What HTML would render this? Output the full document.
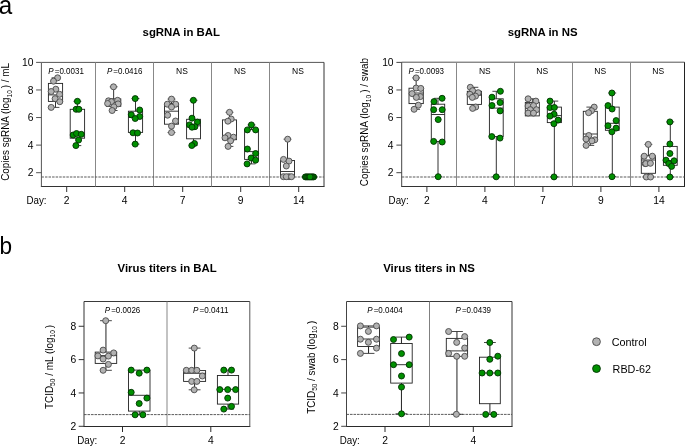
<!DOCTYPE html>
<html><head><meta charset="utf-8"><style>html,body{margin:0;padding:0;background:#fff;width:685px;height:446px;overflow:hidden}svg{display:block} text{-webkit-font-smoothing:antialiased}</style></head>
<body><svg style="will-change:transform" width="685" height="446" viewBox="0 0 685 446" font-family='"Liberation Sans", sans-serif' fill="#000">
<rect width="685" height="446" fill="#fff"/>
<text transform="translate(-1.2,14.0) scale(0.95,1)" font-size="25.5">a</text>
<text transform="translate(-0.4,254.2) scale(0.92,1)" font-size="24.6">b</text>
<line x1="41.4" y1="62.4" x2="324" y2="62.4" stroke="#555" stroke-width="1" />
<line x1="41.4" y1="186.5" x2="324" y2="186.5" stroke="#333" stroke-width="1" stroke-linecap="square"/>
<line x1="41.4" y1="62.4" x2="41.4" y2="186.5" stroke="#555" stroke-width="1" />
<line x1="324" y1="62.4" x2="324" y2="186.5" stroke="#333" stroke-width="1" />
<line x1="95.5" y1="62.4" x2="95.5" y2="186.5" stroke="#888" stroke-width="1" />
<line x1="153.5" y1="62.4" x2="153.5" y2="186.5" stroke="#888" stroke-width="1" />
<line x1="211.5" y1="62.4" x2="211.5" y2="186.5" stroke="#888" stroke-width="1" />
<line x1="269.5" y1="62.4" x2="269.5" y2="186.5" stroke="#888" stroke-width="1" />
<line x1="36.1" y1="62.38" x2="41.4" y2="62.38" stroke="#555" stroke-width="1" />
<text x="33.4" y="65.98" font-size="10.3" text-anchor="end" font-weight="normal" >10</text>
<line x1="36.1" y1="89.96" x2="41.4" y2="89.96" stroke="#555" stroke-width="1" />
<text x="33.4" y="93.56" font-size="10.3" text-anchor="end" font-weight="normal" >8</text>
<line x1="36.1" y1="117.54" x2="41.4" y2="117.54" stroke="#555" stroke-width="1" />
<text x="33.4" y="121.14" font-size="10.3" text-anchor="end" font-weight="normal" >6</text>
<line x1="36.1" y1="145.12" x2="41.4" y2="145.12" stroke="#555" stroke-width="1" />
<text x="33.4" y="148.72" font-size="10.3" text-anchor="end" font-weight="normal" >4</text>
<line x1="36.1" y1="172.7" x2="41.4" y2="172.7" stroke="#555" stroke-width="1" />
<text x="33.4" y="176.3" font-size="10.3" text-anchor="end" font-weight="normal" >2</text>
<line x1="66.7" y1="186.5" x2="66.7" y2="192" stroke="#333" stroke-width="1" />
<text x="66.7" y="204.1" font-size="10.3" text-anchor="middle" font-weight="normal" >2</text>
<line x1="124.7" y1="186.5" x2="124.7" y2="192" stroke="#333" stroke-width="1" />
<text x="124.7" y="204.1" font-size="10.3" text-anchor="middle" font-weight="normal" >4</text>
<line x1="182.7" y1="186.5" x2="182.7" y2="192" stroke="#333" stroke-width="1" />
<text x="182.7" y="204.1" font-size="10.3" text-anchor="middle" font-weight="normal" >7</text>
<line x1="240.7" y1="186.5" x2="240.7" y2="192" stroke="#333" stroke-width="1" />
<text x="240.7" y="204.1" font-size="10.3" text-anchor="middle" font-weight="normal" >9</text>
<line x1="298.7" y1="186.5" x2="298.7" y2="192" stroke="#333" stroke-width="1" />
<text x="298.7" y="204.1" font-size="10.3" text-anchor="middle" font-weight="normal" >14</text>
<text transform="translate(26.4,204.1) scale(0.95,1)" font-size="10.3">Day:</text>
<line x1="41.4" y1="177" x2="324" y2="177" stroke="#5a5a5a" stroke-width="1.1" stroke-dasharray="2.5,1.06"/>
<text x="181.3" y="35.8" font-size="11.4" text-anchor="middle" font-weight="bold" >sgRNA in BAL</text>
<line x1="401.7" y1="62.2" x2="684.5" y2="62.2" stroke="#555" stroke-width="1" />
<line x1="401.7" y1="186.5" x2="684.5" y2="186.5" stroke="#333" stroke-width="1" stroke-linecap="square"/>
<line x1="401.7" y1="62.2" x2="401.7" y2="186.5" stroke="#444" stroke-width="1" />
<line x1="684.5" y1="62.2" x2="684.5" y2="186.5" stroke="#222" stroke-width="1" />
<line x1="456.5" y1="62.2" x2="456.5" y2="186.5" stroke="#888" stroke-width="1" />
<line x1="514.5" y1="62.2" x2="514.5" y2="186.5" stroke="#888" stroke-width="1" />
<line x1="572.5" y1="62.2" x2="572.5" y2="186.5" stroke="#888" stroke-width="1" />
<line x1="630.5" y1="62.2" x2="630.5" y2="186.5" stroke="#888" stroke-width="1" />
<line x1="396.4" y1="62.38" x2="401.7" y2="62.38" stroke="#444" stroke-width="1" />
<text x="393.6" y="65.98" font-size="10.3" text-anchor="end" font-weight="normal" >10</text>
<line x1="396.4" y1="89.96" x2="401.7" y2="89.96" stroke="#444" stroke-width="1" />
<text x="393.6" y="93.56" font-size="10.3" text-anchor="end" font-weight="normal" >8</text>
<line x1="396.4" y1="117.54" x2="401.7" y2="117.54" stroke="#444" stroke-width="1" />
<text x="393.6" y="121.14" font-size="10.3" text-anchor="end" font-weight="normal" >6</text>
<line x1="396.4" y1="145.12" x2="401.7" y2="145.12" stroke="#444" stroke-width="1" />
<text x="393.6" y="148.72" font-size="10.3" text-anchor="end" font-weight="normal" >4</text>
<line x1="396.4" y1="172.7" x2="401.7" y2="172.7" stroke="#444" stroke-width="1" />
<text x="393.6" y="176.3" font-size="10.3" text-anchor="end" font-weight="normal" >2</text>
<line x1="426.9" y1="186.5" x2="426.9" y2="192" stroke="#333" stroke-width="1" />
<text x="426.9" y="204.1" font-size="10.3" text-anchor="middle" font-weight="normal" >2</text>
<line x1="484.9" y1="186.5" x2="484.9" y2="192" stroke="#333" stroke-width="1" />
<text x="484.9" y="204.1" font-size="10.3" text-anchor="middle" font-weight="normal" >4</text>
<line x1="542.9" y1="186.5" x2="542.9" y2="192" stroke="#333" stroke-width="1" />
<text x="542.9" y="204.1" font-size="10.3" text-anchor="middle" font-weight="normal" >7</text>
<line x1="600.9" y1="186.5" x2="600.9" y2="192" stroke="#333" stroke-width="1" />
<text x="600.9" y="204.1" font-size="10.3" text-anchor="middle" font-weight="normal" >9</text>
<line x1="658.9" y1="186.5" x2="658.9" y2="192" stroke="#333" stroke-width="1" />
<text x="658.9" y="204.1" font-size="10.3" text-anchor="middle" font-weight="normal" >14</text>
<text transform="translate(388.6,204.1) scale(0.95,1)" font-size="10.3">Day:</text>
<line x1="401.7" y1="177" x2="684.5" y2="177" stroke="#5a5a5a" stroke-width="1.1" stroke-dasharray="2.6,1.1"/>
<text x="542.6" y="35.8" font-size="11.4" text-anchor="middle" font-weight="bold" >sgRNA in NS</text>
<line x1="84" y1="301.5" x2="249.8" y2="301.5" stroke="#3a3a3a" stroke-width="1" />
<line x1="84" y1="426.5" x2="249.8" y2="426.5" stroke="#2a2a2a" stroke-width="1" stroke-linecap="square"/>
<line x1="84" y1="301.5" x2="84" y2="426.5" stroke="#333" stroke-width="1" />
<line x1="249.8" y1="301.5" x2="249.8" y2="426.5" stroke="#555" stroke-width="1" />
<line x1="167" y1="301.5" x2="167" y2="426.5" stroke="#878787" stroke-width="1" />
<line x1="78.7" y1="326.28" x2="84" y2="326.28" stroke="#333" stroke-width="1" />
<text x="76.2" y="329.88" font-size="10.3" text-anchor="end" font-weight="normal" >8</text>
<line x1="78.7" y1="359.62" x2="84" y2="359.62" stroke="#333" stroke-width="1" />
<text x="76.2" y="363.22" font-size="10.3" text-anchor="end" font-weight="normal" >6</text>
<line x1="78.7" y1="392.96" x2="84" y2="392.96" stroke="#333" stroke-width="1" />
<text x="76.2" y="396.56" font-size="10.3" text-anchor="end" font-weight="normal" >4</text>
<line x1="78.7" y1="426.3" x2="84" y2="426.3" stroke="#333" stroke-width="1" />
<text x="76.2" y="429.9" font-size="10.3" text-anchor="end" font-weight="normal" >2</text>
<line x1="122.5" y1="426.5" x2="122.5" y2="432" stroke="#2a2a2a" stroke-width="1" />
<text x="122.5" y="443.9" font-size="10.3" text-anchor="middle" font-weight="normal" >2</text>
<line x1="210.8" y1="426.5" x2="210.8" y2="432" stroke="#2a2a2a" stroke-width="1" />
<text x="210.8" y="443.9" font-size="10.3" text-anchor="middle" font-weight="normal" >4</text>
<text transform="translate(77.2,443.9) scale(0.95,1)" font-size="10.3">Day:</text>
<line x1="84" y1="414.6" x2="249.8" y2="414.6" stroke="#4a4a4a" stroke-width="0.9" stroke-dasharray="2.6,0.9"/>
<text x="167.1" y="271.8" font-size="11.4" text-anchor="middle" font-weight="bold" >Virus titers in BAL</text>
<line x1="346.5" y1="301.5" x2="512" y2="301.5" stroke="#3a3a3a" stroke-width="1" />
<line x1="346.5" y1="426.5" x2="512" y2="426.5" stroke="#2a2a2a" stroke-width="1" stroke-linecap="square"/>
<line x1="346.5" y1="301.5" x2="346.5" y2="426.5" stroke="#444" stroke-width="1" />
<line x1="512" y1="301.5" x2="512" y2="426.5" stroke="#333" stroke-width="1" />
<line x1="429.5" y1="301.5" x2="429.5" y2="426.5" stroke="#808080" stroke-width="1" />
<line x1="341.2" y1="326.28" x2="346.5" y2="326.28" stroke="#444" stroke-width="1" />
<text x="338.7" y="329.88" font-size="10.3" text-anchor="end" font-weight="normal" >8</text>
<line x1="341.2" y1="359.62" x2="346.5" y2="359.62" stroke="#444" stroke-width="1" />
<text x="338.7" y="363.22" font-size="10.3" text-anchor="end" font-weight="normal" >6</text>
<line x1="341.2" y1="392.96" x2="346.5" y2="392.96" stroke="#444" stroke-width="1" />
<text x="338.7" y="396.56" font-size="10.3" text-anchor="end" font-weight="normal" >4</text>
<line x1="341.2" y1="426.3" x2="346.5" y2="426.3" stroke="#444" stroke-width="1" />
<text x="338.7" y="429.9" font-size="10.3" text-anchor="end" font-weight="normal" >2</text>
<line x1="385" y1="426.5" x2="385" y2="432" stroke="#2a2a2a" stroke-width="1" />
<text x="385" y="443.9" font-size="10.3" text-anchor="middle" font-weight="normal" >2</text>
<line x1="473.3" y1="426.5" x2="473.3" y2="432" stroke="#2a2a2a" stroke-width="1" />
<text x="473.3" y="443.9" font-size="10.3" text-anchor="middle" font-weight="normal" >4</text>
<text transform="translate(339.7,443.9) scale(0.95,1)" font-size="10.3">Day:</text>
<line x1="346.5" y1="414.4" x2="512" y2="414.4" stroke="#4a4a4a" stroke-width="0.9" stroke-dasharray="2.6,0.9"/>
<text x="429" y="271.8" font-size="11.4" text-anchor="middle" font-weight="bold" >Virus titers in NS</text>
<text transform="translate(9.0,180.8) rotate(-90)" font-size="10.3" textLength="117.8" lengthAdjust="spacingAndGlyphs">Copies sgRNA (log<tspan font-size="6.8" dy="2.6">10</tspan><tspan dy="-2.6"> ) / mL</tspan></text>
<text transform="translate(368.4,186.20000000000002) rotate(-90)" font-size="10.3" textLength="128.2" lengthAdjust="spacingAndGlyphs">Copies sgRNA (log<tspan font-size="6.8" dy="2.6">10</tspan><tspan dy="-2.6"> ) / swab</tspan></text>
<text transform="translate(52.5,409.1) rotate(-90)" font-size="10.3" textLength="84.2" lengthAdjust="spacingAndGlyphs">TCID<tspan font-size="6.8" dy="2.6">50</tspan><tspan dy="-2.6"> / mL (log</tspan><tspan font-size="6.8" dy="2.6">10</tspan><tspan dy="-2.6"> )</tspan></text>
<text transform="translate(314.5,413.8) rotate(-90)" font-size="10.3" textLength="93.0" lengthAdjust="spacingAndGlyphs">TCID<tspan font-size="6.8" dy="2.6">50</tspan><tspan dy="-2.6"> / swab (log</tspan><tspan font-size="6.8" dy="2.6">10</tspan><tspan dy="-2.6"> )</tspan></text>
<line x1="55.5" y1="83.4" x2="55.5" y2="77.8" stroke="#333" stroke-width="1" />
<line x1="51.6" y1="77.8" x2="59.4" y2="77.8" stroke="#333" stroke-width="0.9" />
<line x1="55.5" y1="101.4" x2="55.5" y2="107.4" stroke="#333" stroke-width="1" />
<line x1="51.6" y1="107.4" x2="59.4" y2="107.4" stroke="#333" stroke-width="0.9" />
<rect x="48.4" y="83.4" width="14.20" height="18.00" fill="none" stroke="#222" stroke-width="0.9"/>
<line x1="48.4" y1="94.9" x2="62.6" y2="94.9" stroke="#222" stroke-width="0.9" />
<line x1="77.4" y1="109.3" x2="77.4" y2="101.3" stroke="#333" stroke-width="1" />
<line x1="73.5" y1="101.3" x2="81.3" y2="101.3" stroke="#333" stroke-width="0.9" />
<line x1="77.4" y1="138.2" x2="77.4" y2="145.6" stroke="#333" stroke-width="1" />
<line x1="73.5" y1="145.6" x2="81.3" y2="145.6" stroke="#333" stroke-width="0.9" />
<rect x="70.2" y="109.3" width="14.40" height="28.90" fill="none" stroke="#222" stroke-width="0.9"/>
<line x1="70.2" y1="134" x2="84.6" y2="134" stroke="#222" stroke-width="0.9" />
<line x1="113.65" y1="98.9" x2="113.65" y2="86.8" stroke="#333" stroke-width="1" />
<line x1="109.75" y1="86.8" x2="117.55" y2="86.8" stroke="#333" stroke-width="0.9" />
<line x1="113.65" y1="106.3" x2="113.65" y2="110.5" stroke="#333" stroke-width="1" />
<line x1="109.75" y1="110.5" x2="117.55" y2="110.5" stroke="#333" stroke-width="0.9" />
<rect x="106.5" y="98.9" width="14.30" height="7.40" fill="none" stroke="#222" stroke-width="0.9"/>
<line x1="106.5" y1="102.5" x2="120.8" y2="102.5" stroke="#222" stroke-width="0.9" />
<line x1="135.5" y1="111.2" x2="135.5" y2="98.6" stroke="#333" stroke-width="1" />
<line x1="131.6" y1="98.6" x2="139.4" y2="98.6" stroke="#333" stroke-width="0.9" />
<line x1="135.5" y1="132.4" x2="135.5" y2="144.1" stroke="#333" stroke-width="1" />
<line x1="131.6" y1="144.1" x2="139.4" y2="144.1" stroke="#333" stroke-width="0.9" />
<rect x="128.4" y="111.2" width="14.20" height="21.20" fill="none" stroke="#222" stroke-width="0.9"/>
<line x1="128.4" y1="117.5" x2="142.6" y2="117.5" stroke="#222" stroke-width="0.9" />
<line x1="171.5" y1="103.6" x2="171.5" y2="99.1" stroke="#333" stroke-width="1" />
<line x1="167.6" y1="99.1" x2="175.4" y2="99.1" stroke="#333" stroke-width="0.9" />
<line x1="171.5" y1="124.2" x2="171.5" y2="132.5" stroke="#333" stroke-width="1" />
<line x1="167.6" y1="132.5" x2="175.4" y2="132.5" stroke="#333" stroke-width="0.9" />
<rect x="164.5" y="103.6" width="14.00" height="20.60" fill="none" stroke="#222" stroke-width="0.9"/>
<line x1="164.5" y1="111.2" x2="178.5" y2="111.2" stroke="#222" stroke-width="0.9" />
<line x1="193.55" y1="119.3" x2="193.55" y2="100.3" stroke="#333" stroke-width="1" />
<line x1="189.65" y1="100.3" x2="197.45" y2="100.3" stroke="#333" stroke-width="0.9" />
<line x1="193.55" y1="138.8" x2="193.55" y2="145.5" stroke="#333" stroke-width="1" />
<line x1="189.65" y1="145.5" x2="197.45" y2="145.5" stroke="#333" stroke-width="0.9" />
<rect x="186.6" y="119.3" width="13.90" height="19.50" fill="none" stroke="#222" stroke-width="0.9"/>
<line x1="186.6" y1="125.8" x2="200.5" y2="125.8" stroke="#222" stroke-width="0.9" />
<line x1="229.5" y1="119.9" x2="229.5" y2="112.3" stroke="#333" stroke-width="1" />
<line x1="225.6" y1="112.3" x2="233.4" y2="112.3" stroke="#333" stroke-width="0.9" />
<line x1="229.5" y1="139.7" x2="229.5" y2="146.4" stroke="#333" stroke-width="1" />
<line x1="225.6" y1="146.4" x2="233.4" y2="146.4" stroke="#333" stroke-width="0.9" />
<rect x="222.5" y="119.9" width="14.00" height="19.80" fill="none" stroke="#222" stroke-width="0.9"/>
<line x1="222.5" y1="136.3" x2="236.5" y2="136.3" stroke="#222" stroke-width="0.9" />
<line x1="251.5" y1="129.6" x2="251.5" y2="124.9" stroke="#333" stroke-width="1" />
<line x1="247.6" y1="124.9" x2="255.4" y2="124.9" stroke="#333" stroke-width="0.9" />
<line x1="251.5" y1="159.4" x2="251.5" y2="163.9" stroke="#333" stroke-width="1" />
<line x1="247.6" y1="163.9" x2="255.4" y2="163.9" stroke="#333" stroke-width="0.9" />
<rect x="244.6" y="129.6" width="13.80" height="29.80" fill="none" stroke="#222" stroke-width="0.9"/>
<line x1="244.6" y1="151.6" x2="258.4" y2="151.6" stroke="#222" stroke-width="0.9" />
<line x1="287.5" y1="160.5" x2="287.5" y2="139.2" stroke="#333" stroke-width="1" />
<line x1="283.6" y1="139.2" x2="291.4" y2="139.2" stroke="#333" stroke-width="0.9" />
<rect x="280.5" y="160.5" width="14.00" height="16.30" fill="none" stroke="#222" stroke-width="0.9"/>
<line x1="280.5" y1="171.5" x2="294.5" y2="171.5" stroke="#222" stroke-width="0.9" />
<line x1="309.35" y1="176.8" x2="309.35" y2="176.9" stroke="#333" stroke-width="1" />
<line x1="305.45" y1="176.9" x2="313.25" y2="176.9" stroke="#333" stroke-width="0.9" />
<line x1="302.3" y1="176.8" x2="316.4" y2="176.8" stroke="#222" stroke-width="0.9" />
<circle cx="57.6" cy="77.8" r="3.0" fill="#b2b2b2" stroke="#4a4a4a" stroke-width="0.9"/>
<circle cx="53.5" cy="81.2" r="3.0" fill="#b2b2b2" stroke="#4a4a4a" stroke-width="0.9"/>
<circle cx="55.8" cy="89.2" r="3.0" fill="#b2b2b2" stroke="#4a4a4a" stroke-width="0.9"/>
<circle cx="51.2" cy="91.5" r="3.0" fill="#b2b2b2" stroke="#4a4a4a" stroke-width="0.9"/>
<circle cx="59.6" cy="94.3" r="3.0" fill="#b2b2b2" stroke="#4a4a4a" stroke-width="0.9"/>
<circle cx="55.1" cy="98.7" r="3.0" fill="#b2b2b2" stroke="#4a4a4a" stroke-width="0.9"/>
<circle cx="59.8" cy="101.7" r="3.0" fill="#b2b2b2" stroke="#4a4a4a" stroke-width="0.9"/>
<circle cx="51.2" cy="107.4" r="3.0" fill="#b2b2b2" stroke="#4a4a4a" stroke-width="0.9"/>
<circle cx="77.4" cy="101.3" r="3.0" fill="#009000" stroke="#003000" stroke-width="0.9"/>
<circle cx="76.1" cy="109.3" r="3.0" fill="#009000" stroke="#003000" stroke-width="0.9"/>
<circle cx="78.9" cy="109.3" r="3.0" fill="#009000" stroke="#003000" stroke-width="0.9"/>
<circle cx="73.2" cy="135.0" r="3.0" fill="#009000" stroke="#003000" stroke-width="0.9"/>
<circle cx="76.5" cy="133.5" r="3.0" fill="#009000" stroke="#003000" stroke-width="0.9"/>
<circle cx="81.3" cy="134.3" r="3.0" fill="#009000" stroke="#003000" stroke-width="0.9"/>
<circle cx="78.6" cy="140.0" r="3.0" fill="#009000" stroke="#003000" stroke-width="0.9"/>
<circle cx="75.9" cy="145.6" r="3.0" fill="#009000" stroke="#003000" stroke-width="0.9"/>
<circle cx="113.5" cy="86.8" r="3.0" fill="#b2b2b2" stroke="#4a4a4a" stroke-width="0.9"/>
<circle cx="108.5" cy="100.8" r="3.0" fill="#b2b2b2" stroke="#4a4a4a" stroke-width="0.9"/>
<circle cx="117.6" cy="100.3" r="3.0" fill="#b2b2b2" stroke="#4a4a4a" stroke-width="0.9"/>
<circle cx="111.4" cy="101.7" r="3.0" fill="#b2b2b2" stroke="#4a4a4a" stroke-width="0.9"/>
<circle cx="107.6" cy="103.5" r="3.0" fill="#b2b2b2" stroke="#4a4a4a" stroke-width="0.9"/>
<circle cx="118.1" cy="103.9" r="3.0" fill="#b2b2b2" stroke="#4a4a4a" stroke-width="0.9"/>
<circle cx="113.9" cy="106.8" r="3.0" fill="#b2b2b2" stroke="#4a4a4a" stroke-width="0.9"/>
<circle cx="112.1" cy="110.5" r="3.0" fill="#b2b2b2" stroke="#4a4a4a" stroke-width="0.9"/>
<circle cx="135.2" cy="98.6" r="3.0" fill="#009000" stroke="#003000" stroke-width="0.9"/>
<circle cx="139.7" cy="110.0" r="3.0" fill="#009000" stroke="#003000" stroke-width="0.9"/>
<circle cx="131.3" cy="114.8" r="3.0" fill="#009000" stroke="#003000" stroke-width="0.9"/>
<circle cx="139.7" cy="116.5" r="3.0" fill="#009000" stroke="#003000" stroke-width="0.9"/>
<circle cx="135.2" cy="118.5" r="3.0" fill="#009000" stroke="#003000" stroke-width="0.9"/>
<circle cx="133.0" cy="132.8" r="3.0" fill="#009000" stroke="#003000" stroke-width="0.9"/>
<circle cx="137.5" cy="133.0" r="3.0" fill="#009000" stroke="#003000" stroke-width="0.9"/>
<circle cx="135.2" cy="144.1" r="3.0" fill="#009000" stroke="#003000" stroke-width="0.9"/>
<circle cx="171.5" cy="99.1" r="3.0" fill="#b2b2b2" stroke="#4a4a4a" stroke-width="0.9"/>
<circle cx="167.3" cy="104.2" r="3.0" fill="#b2b2b2" stroke="#4a4a4a" stroke-width="0.9"/>
<circle cx="175.7" cy="104.2" r="3.0" fill="#b2b2b2" stroke="#4a4a4a" stroke-width="0.9"/>
<circle cx="171.5" cy="107.0" r="3.0" fill="#b2b2b2" stroke="#4a4a4a" stroke-width="0.9"/>
<circle cx="167.6" cy="115.2" r="3.0" fill="#b2b2b2" stroke="#4a4a4a" stroke-width="0.9"/>
<circle cx="175.5" cy="121.0" r="3.0" fill="#b2b2b2" stroke="#4a4a4a" stroke-width="0.9"/>
<circle cx="171.5" cy="126.1" r="3.0" fill="#b2b2b2" stroke="#4a4a4a" stroke-width="0.9"/>
<circle cx="171.5" cy="132.5" r="3.0" fill="#b2b2b2" stroke="#4a4a4a" stroke-width="0.9"/>
<circle cx="193.4" cy="100.3" r="3.0" fill="#009000" stroke="#003000" stroke-width="0.9"/>
<circle cx="192.0" cy="118.2" r="3.0" fill="#009000" stroke="#003000" stroke-width="0.9"/>
<circle cx="197.4" cy="122.1" r="3.0" fill="#009000" stroke="#003000" stroke-width="0.9"/>
<circle cx="189.5" cy="124.9" r="3.0" fill="#009000" stroke="#003000" stroke-width="0.9"/>
<circle cx="194.9" cy="126.7" r="3.0" fill="#009000" stroke="#003000" stroke-width="0.9"/>
<circle cx="192.0" cy="127.2" r="3.0" fill="#009000" stroke="#003000" stroke-width="0.9"/>
<circle cx="194.5" cy="143.5" r="3.0" fill="#009000" stroke="#003000" stroke-width="0.9"/>
<circle cx="191.8" cy="145.5" r="3.0" fill="#009000" stroke="#003000" stroke-width="0.9"/>
<circle cx="229.5" cy="112.3" r="3.0" fill="#b2b2b2" stroke="#4a4a4a" stroke-width="0.9"/>
<circle cx="231.2" cy="119.0" r="3.0" fill="#b2b2b2" stroke="#4a4a4a" stroke-width="0.9"/>
<circle cx="227.9" cy="121.2" r="3.0" fill="#b2b2b2" stroke="#4a4a4a" stroke-width="0.9"/>
<circle cx="228.1" cy="135.5" r="3.0" fill="#b2b2b2" stroke="#4a4a4a" stroke-width="0.9"/>
<circle cx="233.5" cy="137.2" r="3.0" fill="#b2b2b2" stroke="#4a4a4a" stroke-width="0.9"/>
<circle cx="225.0" cy="137.8" r="3.0" fill="#b2b2b2" stroke="#4a4a4a" stroke-width="0.9"/>
<circle cx="230.6" cy="140.8" r="3.0" fill="#b2b2b2" stroke="#4a4a4a" stroke-width="0.9"/>
<circle cx="228.1" cy="146.4" r="3.0" fill="#b2b2b2" stroke="#4a4a4a" stroke-width="0.9"/>
<circle cx="251.4" cy="124.9" r="3.0" fill="#009000" stroke="#003000" stroke-width="0.9"/>
<circle cx="247.4" cy="129.9" r="3.0" fill="#009000" stroke="#003000" stroke-width="0.9"/>
<circle cx="255.6" cy="129.9" r="3.0" fill="#009000" stroke="#003000" stroke-width="0.9"/>
<circle cx="247.4" cy="149.0" r="3.0" fill="#009000" stroke="#003000" stroke-width="0.9"/>
<circle cx="255.6" cy="153.5" r="3.0" fill="#009000" stroke="#003000" stroke-width="0.9"/>
<circle cx="251.1" cy="158.0" r="3.0" fill="#009000" stroke="#003000" stroke-width="0.9"/>
<circle cx="255.6" cy="160.2" r="3.0" fill="#009000" stroke="#003000" stroke-width="0.9"/>
<circle cx="247.1" cy="163.9" r="3.0" fill="#009000" stroke="#003000" stroke-width="0.9"/>
<circle cx="287.7" cy="139.2" r="3.0" fill="#b2b2b2" stroke="#4a4a4a" stroke-width="0.9"/>
<circle cx="283.5" cy="159.4" r="3.0" fill="#b2b2b2" stroke="#4a4a4a" stroke-width="0.9"/>
<circle cx="289.0" cy="161.1" r="3.0" fill="#b2b2b2" stroke="#4a4a4a" stroke-width="0.9"/>
<circle cx="286.3" cy="166.0" r="3.0" fill="#b2b2b2" stroke="#4a4a4a" stroke-width="0.9"/>
<circle cx="283.4" cy="176.7" r="3.0" fill="#b2b2b2" stroke="#4a4a4a" stroke-width="0.9"/>
<circle cx="289.0" cy="176.7" r="3.0" fill="#b2b2b2" stroke="#4a4a4a" stroke-width="0.9"/>
<circle cx="286.3" cy="176.7" r="3.0" fill="#b2b2b2" stroke="#4a4a4a" stroke-width="0.9"/>
<circle cx="291.5" cy="176.7" r="3.0" fill="#b2b2b2" stroke="#4a4a4a" stroke-width="0.9"/>
<circle cx="305.4" cy="176.9" r="3.0" fill="#009000" stroke="#003000" stroke-width="0.9"/>
<circle cx="313.7" cy="176.9" r="3.0" fill="#009000" stroke="#003000" stroke-width="0.9"/>
<circle cx="306.6" cy="176.9" r="3.0" fill="#009000" stroke="#003000" stroke-width="0.9"/>
<circle cx="312.5" cy="176.9" r="3.0" fill="#009000" stroke="#003000" stroke-width="0.9"/>
<circle cx="307.8" cy="176.9" r="3.0" fill="#009000" stroke="#003000" stroke-width="0.9"/>
<circle cx="311.3" cy="176.9" r="3.0" fill="#009000" stroke="#003000" stroke-width="0.9"/>
<circle cx="309.0" cy="176.9" r="3.0" fill="#009000" stroke="#003000" stroke-width="0.9"/>
<circle cx="310.1" cy="176.9" r="3.0" fill="#009000" stroke="#003000" stroke-width="0.9"/>
<line x1="416.15" y1="88.2" x2="416.15" y2="77.9" stroke="#333" stroke-width="1" />
<line x1="412.25" y1="77.9" x2="420.05" y2="77.9" stroke="#333" stroke-width="0.9" />
<line x1="416.15" y1="103.6" x2="416.15" y2="109.3" stroke="#333" stroke-width="1" />
<line x1="412.25" y1="109.3" x2="420.05" y2="109.3" stroke="#333" stroke-width="0.9" />
<rect x="409.0" y="88.2" width="14.30" height="15.40" fill="none" stroke="#222" stroke-width="0.9"/>
<line x1="409" y1="93" x2="423.3" y2="93" stroke="#222" stroke-width="0.9" />
<line x1="438" y1="104.2" x2="438" y2="98.3" stroke="#333" stroke-width="1" />
<line x1="434.1" y1="98.3" x2="441.9" y2="98.3" stroke="#333" stroke-width="0.9" />
<line x1="438" y1="141.4" x2="438" y2="176.7" stroke="#333" stroke-width="1" />
<line x1="434.1" y1="176.7" x2="441.9" y2="176.7" stroke="#333" stroke-width="0.9" />
<rect x="431.3" y="104.2" width="13.40" height="37.20" fill="none" stroke="#222" stroke-width="0.9"/>
<line x1="431.3" y1="114.5" x2="444.7" y2="114.5" stroke="#222" stroke-width="0.9" />
<line x1="474.4" y1="91.3" x2="474.4" y2="87.3" stroke="#333" stroke-width="1" />
<line x1="470.5" y1="87.3" x2="478.3" y2="87.3" stroke="#333" stroke-width="0.9" />
<line x1="474.4" y1="104.4" x2="474.4" y2="108.4" stroke="#333" stroke-width="1" />
<line x1="470.5" y1="108.4" x2="478.3" y2="108.4" stroke="#333" stroke-width="0.9" />
<rect x="467.3" y="91.3" width="14.20" height="13.10" fill="none" stroke="#222" stroke-width="0.9"/>
<line x1="467.3" y1="95.2" x2="481.5" y2="95.2" stroke="#222" stroke-width="0.9" />
<line x1="496.3" y1="98.8" x2="496.3" y2="91.3" stroke="#333" stroke-width="1" />
<line x1="492.4" y1="91.3" x2="500.2" y2="91.3" stroke="#333" stroke-width="0.9" />
<line x1="496.3" y1="136.6" x2="496.3" y2="176.8" stroke="#333" stroke-width="1" />
<line x1="492.4" y1="176.8" x2="500.2" y2="176.8" stroke="#333" stroke-width="0.9" />
<rect x="489.4" y="98.8" width="13.80" height="37.80" fill="none" stroke="#222" stroke-width="0.9"/>
<line x1="489.4" y1="108.1" x2="503.2" y2="108.1" stroke="#222" stroke-width="0.9" />
<line x1="532.3" y1="102.4" x2="532.3" y2="98.8" stroke="#333" stroke-width="1" />
<line x1="528.4" y1="98.8" x2="536.2" y2="98.8" stroke="#333" stroke-width="0.9" />
<rect x="525.3" y="102.4" width="14.00" height="13.50" fill="none" stroke="#222" stroke-width="0.9"/>
<line x1="525.3" y1="107.8" x2="539.3" y2="107.8" stroke="#222" stroke-width="0.9" />
<line x1="554.35" y1="107.1" x2="554.35" y2="101.1" stroke="#333" stroke-width="1" />
<line x1="550.45" y1="101.1" x2="558.25" y2="101.1" stroke="#333" stroke-width="0.9" />
<line x1="554.35" y1="122.6" x2="554.35" y2="176.9" stroke="#333" stroke-width="1" />
<line x1="550.45" y1="176.9" x2="558.25" y2="176.9" stroke="#333" stroke-width="0.9" />
<rect x="547.3" y="107.1" width="14.10" height="15.50" fill="none" stroke="#222" stroke-width="0.9"/>
<line x1="547.3" y1="115.6" x2="561.4" y2="115.6" stroke="#222" stroke-width="0.9" />
<line x1="590.3" y1="111.3" x2="590.3" y2="107.1" stroke="#333" stroke-width="1" />
<line x1="586.4" y1="107.1" x2="594.2" y2="107.1" stroke="#333" stroke-width="0.9" />
<line x1="590.3" y1="139.8" x2="590.3" y2="145.4" stroke="#333" stroke-width="1" />
<line x1="586.4" y1="145.4" x2="594.2" y2="145.4" stroke="#333" stroke-width="0.9" />
<rect x="583.3" y="111.3" width="14.00" height="28.50" fill="none" stroke="#222" stroke-width="0.9"/>
<line x1="583.3" y1="134" x2="597.3" y2="134" stroke="#222" stroke-width="0.9" />
<line x1="612.3" y1="107.1" x2="612.3" y2="93" stroke="#333" stroke-width="1" />
<line x1="608.4" y1="93" x2="616.2" y2="93" stroke="#333" stroke-width="0.9" />
<line x1="612.3" y1="130.3" x2="612.3" y2="176.7" stroke="#333" stroke-width="1" />
<line x1="608.4" y1="176.7" x2="616.2" y2="176.7" stroke="#333" stroke-width="0.9" />
<rect x="605.4" y="107.1" width="13.80" height="23.20" fill="none" stroke="#222" stroke-width="0.9"/>
<line x1="605.4" y1="123.3" x2="619.2" y2="123.3" stroke="#222" stroke-width="0.9" />
<line x1="648.4" y1="155.8" x2="648.4" y2="144.4" stroke="#333" stroke-width="1" />
<line x1="644.5" y1="144.4" x2="652.3" y2="144.4" stroke="#333" stroke-width="0.9" />
<line x1="648.4" y1="173.3" x2="648.4" y2="177" stroke="#333" stroke-width="1" />
<line x1="644.5" y1="177" x2="652.3" y2="177" stroke="#333" stroke-width="0.9" />
<rect x="641.3" y="155.8" width="14.20" height="17.50" fill="none" stroke="#222" stroke-width="0.9"/>
<line x1="641.3" y1="160" x2="655.5" y2="160" stroke="#222" stroke-width="0.9" />
<line x1="670.3" y1="146.4" x2="670.3" y2="121.9" stroke="#333" stroke-width="1" />
<line x1="666.4" y1="121.9" x2="674.2" y2="121.9" stroke="#333" stroke-width="0.9" />
<line x1="670.3" y1="165.3" x2="670.3" y2="177" stroke="#333" stroke-width="1" />
<line x1="666.4" y1="177" x2="674.2" y2="177" stroke="#333" stroke-width="0.9" />
<rect x="663.4" y="146.4" width="13.80" height="18.90" fill="none" stroke="#222" stroke-width="0.9"/>
<line x1="663.4" y1="160.5" x2="677.2" y2="160.5" stroke="#222" stroke-width="0.9" />
<circle cx="416.1" cy="77.9" r="3.0" fill="#b2b2b2" stroke="#4a4a4a" stroke-width="0.9"/>
<circle cx="416.1" cy="88.0" r="3.0" fill="#b2b2b2" stroke="#4a4a4a" stroke-width="0.9"/>
<circle cx="420.8" cy="88.4" r="3.0" fill="#b2b2b2" stroke="#4a4a4a" stroke-width="0.9"/>
<circle cx="412.1" cy="93.6" r="3.0" fill="#b2b2b2" stroke="#4a4a4a" stroke-width="0.9"/>
<circle cx="420.3" cy="96.6" r="3.0" fill="#b2b2b2" stroke="#4a4a4a" stroke-width="0.9"/>
<circle cx="416.3" cy="97.4" r="3.0" fill="#b2b2b2" stroke="#4a4a4a" stroke-width="0.9"/>
<circle cx="418.3" cy="105.2" r="3.0" fill="#b2b2b2" stroke="#4a4a4a" stroke-width="0.9"/>
<circle cx="414.1" cy="109.3" r="3.0" fill="#b2b2b2" stroke="#4a4a4a" stroke-width="0.9"/>
<circle cx="442.1" cy="98.3" r="3.0" fill="#009000" stroke="#003000" stroke-width="0.9"/>
<circle cx="434.0" cy="101.6" r="3.0" fill="#009000" stroke="#003000" stroke-width="0.9"/>
<circle cx="433.7" cy="109.7" r="3.0" fill="#009000" stroke="#003000" stroke-width="0.9"/>
<circle cx="442.2" cy="109.7" r="3.0" fill="#009000" stroke="#003000" stroke-width="0.9"/>
<circle cx="438.2" cy="119.6" r="3.0" fill="#009000" stroke="#003000" stroke-width="0.9"/>
<circle cx="433.7" cy="141.4" r="3.0" fill="#009000" stroke="#003000" stroke-width="0.9"/>
<circle cx="442.2" cy="142.0" r="3.0" fill="#009000" stroke="#003000" stroke-width="0.9"/>
<circle cx="438.2" cy="176.7" r="3.0" fill="#009000" stroke="#003000" stroke-width="0.9"/>
<circle cx="470.3" cy="87.3" r="3.0" fill="#b2b2b2" stroke="#4a4a4a" stroke-width="0.9"/>
<circle cx="472.6" cy="90.7" r="3.0" fill="#b2b2b2" stroke="#4a4a4a" stroke-width="0.9"/>
<circle cx="478.2" cy="92.7" r="3.0" fill="#b2b2b2" stroke="#4a4a4a" stroke-width="0.9"/>
<circle cx="469.9" cy="94.3" r="3.0" fill="#b2b2b2" stroke="#4a4a4a" stroke-width="0.9"/>
<circle cx="475.5" cy="96.1" r="3.0" fill="#b2b2b2" stroke="#4a4a4a" stroke-width="0.9"/>
<circle cx="472.3" cy="97.4" r="3.0" fill="#b2b2b2" stroke="#4a4a4a" stroke-width="0.9"/>
<circle cx="475.7" cy="107.0" r="3.0" fill="#b2b2b2" stroke="#4a4a4a" stroke-width="0.9"/>
<circle cx="472.6" cy="108.4" r="3.0" fill="#b2b2b2" stroke="#4a4a4a" stroke-width="0.9"/>
<circle cx="500.4" cy="91.3" r="3.0" fill="#009000" stroke="#003000" stroke-width="0.9"/>
<circle cx="492.0" cy="97.2" r="3.0" fill="#009000" stroke="#003000" stroke-width="0.9"/>
<circle cx="500.1" cy="102.5" r="3.0" fill="#009000" stroke="#003000" stroke-width="0.9"/>
<circle cx="492.0" cy="105.5" r="3.0" fill="#009000" stroke="#003000" stroke-width="0.9"/>
<circle cx="500.1" cy="110.9" r="3.0" fill="#009000" stroke="#003000" stroke-width="0.9"/>
<circle cx="491.8" cy="136.6" r="3.0" fill="#009000" stroke="#003000" stroke-width="0.9"/>
<circle cx="500.0" cy="138.1" r="3.0" fill="#009000" stroke="#003000" stroke-width="0.9"/>
<circle cx="496.2" cy="176.8" r="3.0" fill="#009000" stroke="#003000" stroke-width="0.9"/>
<circle cx="528.1" cy="98.8" r="3.0" fill="#b2b2b2" stroke="#4a4a4a" stroke-width="0.9"/>
<circle cx="535.9" cy="101.1" r="3.0" fill="#b2b2b2" stroke="#4a4a4a" stroke-width="0.9"/>
<circle cx="528.1" cy="106.0" r="3.0" fill="#b2b2b2" stroke="#4a4a4a" stroke-width="0.9"/>
<circle cx="533.5" cy="105.6" r="3.0" fill="#b2b2b2" stroke="#4a4a4a" stroke-width="0.9"/>
<circle cx="536.5" cy="109.7" r="3.0" fill="#b2b2b2" stroke="#4a4a4a" stroke-width="0.9"/>
<circle cx="530.3" cy="109.7" r="3.0" fill="#b2b2b2" stroke="#4a4a4a" stroke-width="0.9"/>
<circle cx="528.1" cy="113.1" r="3.0" fill="#b2b2b2" stroke="#4a4a4a" stroke-width="0.9"/>
<circle cx="533.5" cy="113.1" r="3.0" fill="#b2b2b2" stroke="#4a4a4a" stroke-width="0.9"/>
<circle cx="550.0" cy="101.1" r="3.0" fill="#009000" stroke="#003000" stroke-width="0.9"/>
<circle cx="550.0" cy="107.5" r="3.0" fill="#009000" stroke="#003000" stroke-width="0.9"/>
<circle cx="554.4" cy="107.5" r="3.0" fill="#009000" stroke="#003000" stroke-width="0.9"/>
<circle cx="554.1" cy="114.2" r="3.0" fill="#009000" stroke="#003000" stroke-width="0.9"/>
<circle cx="550.0" cy="116.1" r="3.0" fill="#009000" stroke="#003000" stroke-width="0.9"/>
<circle cx="558.1" cy="120.1" r="3.0" fill="#009000" stroke="#003000" stroke-width="0.9"/>
<circle cx="553.9" cy="123.7" r="3.0" fill="#009000" stroke="#003000" stroke-width="0.9"/>
<circle cx="554.0" cy="176.9" r="3.0" fill="#009000" stroke="#003000" stroke-width="0.9"/>
<circle cx="594.2" cy="107.1" r="3.0" fill="#b2b2b2" stroke="#4a4a4a" stroke-width="0.9"/>
<circle cx="591.5" cy="110.7" r="3.0" fill="#b2b2b2" stroke="#4a4a4a" stroke-width="0.9"/>
<circle cx="588.6" cy="112.7" r="3.0" fill="#b2b2b2" stroke="#4a4a4a" stroke-width="0.9"/>
<circle cx="588.8" cy="135.5" r="3.0" fill="#b2b2b2" stroke="#4a4a4a" stroke-width="0.9"/>
<circle cx="586.1" cy="139.1" r="3.0" fill="#b2b2b2" stroke="#4a4a4a" stroke-width="0.9"/>
<circle cx="594.8" cy="139.8" r="3.0" fill="#b2b2b2" stroke="#4a4a4a" stroke-width="0.9"/>
<circle cx="591.9" cy="140.9" r="3.0" fill="#b2b2b2" stroke="#4a4a4a" stroke-width="0.9"/>
<circle cx="586.1" cy="145.4" r="3.0" fill="#b2b2b2" stroke="#4a4a4a" stroke-width="0.9"/>
<circle cx="611.9" cy="93.0" r="3.0" fill="#009000" stroke="#003000" stroke-width="0.9"/>
<circle cx="608.0" cy="105.6" r="3.0" fill="#009000" stroke="#003000" stroke-width="0.9"/>
<circle cx="612.1" cy="109.0" r="3.0" fill="#009000" stroke="#003000" stroke-width="0.9"/>
<circle cx="616.1" cy="120.6" r="3.0" fill="#009000" stroke="#003000" stroke-width="0.9"/>
<circle cx="608.0" cy="125.8" r="3.0" fill="#009000" stroke="#003000" stroke-width="0.9"/>
<circle cx="616.1" cy="128.1" r="3.0" fill="#009000" stroke="#003000" stroke-width="0.9"/>
<circle cx="611.9" cy="131.8" r="3.0" fill="#009000" stroke="#003000" stroke-width="0.9"/>
<circle cx="612.0" cy="176.7" r="3.0" fill="#009000" stroke="#003000" stroke-width="0.9"/>
<circle cx="648.3" cy="144.4" r="3.0" fill="#b2b2b2" stroke="#4a4a4a" stroke-width="0.9"/>
<circle cx="644.2" cy="156.2" r="3.0" fill="#b2b2b2" stroke="#4a4a4a" stroke-width="0.9"/>
<circle cx="652.3" cy="156.2" r="3.0" fill="#b2b2b2" stroke="#4a4a4a" stroke-width="0.9"/>
<circle cx="645.2" cy="163.6" r="3.0" fill="#b2b2b2" stroke="#4a4a4a" stroke-width="0.9"/>
<circle cx="645.8" cy="163.6" r="3.0" fill="#b2b2b2" stroke="#4a4a4a" stroke-width="0.9"/>
<circle cx="650.4" cy="163.3" r="3.0" fill="#b2b2b2" stroke="#4a4a4a" stroke-width="0.9"/>
<circle cx="646.3" cy="177.0" r="3.0" fill="#b2b2b2" stroke="#4a4a4a" stroke-width="0.9"/>
<circle cx="650.6" cy="177.0" r="3.0" fill="#b2b2b2" stroke="#4a4a4a" stroke-width="0.9"/>
<circle cx="669.9" cy="121.9" r="3.0" fill="#009000" stroke="#003000" stroke-width="0.9"/>
<circle cx="669.9" cy="144.0" r="3.0" fill="#009000" stroke="#003000" stroke-width="0.9"/>
<circle cx="669.9" cy="153.5" r="3.0" fill="#009000" stroke="#003000" stroke-width="0.9"/>
<circle cx="666.0" cy="160.2" r="3.0" fill="#009000" stroke="#003000" stroke-width="0.9"/>
<circle cx="674.1" cy="160.8" r="3.0" fill="#009000" stroke="#003000" stroke-width="0.9"/>
<circle cx="668.8" cy="163.6" r="3.0" fill="#009000" stroke="#003000" stroke-width="0.9"/>
<circle cx="671.6" cy="166.4" r="3.0" fill="#009000" stroke="#003000" stroke-width="0.9"/>
<circle cx="669.9" cy="177.0" r="3.0" fill="#009000" stroke="#003000" stroke-width="0.9"/>
<line x1="105.95" y1="352.1" x2="105.95" y2="320.7" stroke="#222" stroke-width="1" />
<line x1="100.05" y1="320.7" x2="111.85" y2="320.7" stroke="#333" stroke-width="0.9" />
<line x1="105.95" y1="363.4" x2="105.95" y2="370.3" stroke="#222" stroke-width="1" />
<line x1="100.05" y1="370.3" x2="111.85" y2="370.3" stroke="#333" stroke-width="0.9" />
<rect x="95.2" y="352.1" width="21.50" height="11.30" fill="none" stroke="#222" stroke-width="0.9"/>
<line x1="95.2" y1="355.6" x2="116.7" y2="355.6" stroke="#222" stroke-width="0.9" />
<line x1="139.25" y1="411.1" x2="139.25" y2="414.8" stroke="#222" stroke-width="1" />
<line x1="133.35" y1="414.8" x2="145.15" y2="414.8" stroke="#333" stroke-width="0.9" />
<rect x="128.5" y="370.1" width="21.50" height="41.00" fill="none" stroke="#222" stroke-width="0.9"/>
<line x1="128.5" y1="395.3" x2="150" y2="395.3" stroke="#222" stroke-width="0.9" />
<line x1="194.6" y1="370.6" x2="194.6" y2="348.1" stroke="#222" stroke-width="1" />
<line x1="188.7" y1="348.1" x2="200.5" y2="348.1" stroke="#333" stroke-width="0.9" />
<line x1="194.6" y1="381.4" x2="194.6" y2="389.8" stroke="#222" stroke-width="1" />
<line x1="188.7" y1="389.8" x2="200.5" y2="389.8" stroke="#333" stroke-width="0.9" />
<rect x="183.6" y="370.6" width="22.00" height="10.80" fill="none" stroke="#222" stroke-width="0.9"/>
<line x1="183.6" y1="373.3" x2="205.6" y2="373.3" stroke="#222" stroke-width="0.9" />
<line x1="228" y1="375.5" x2="228" y2="370.1" stroke="#222" stroke-width="1" />
<line x1="222.1" y1="370.1" x2="233.9" y2="370.1" stroke="#333" stroke-width="0.9" />
<line x1="228" y1="404.1" x2="228" y2="409.1" stroke="#222" stroke-width="1" />
<line x1="222.1" y1="409.1" x2="233.9" y2="409.1" stroke="#333" stroke-width="0.9" />
<rect x="217.4" y="375.5" width="21.20" height="28.60" fill="none" stroke="#222" stroke-width="0.9"/>
<line x1="217.4" y1="389.3" x2="238.6" y2="389.3" stroke="#222" stroke-width="0.9" />
<circle cx="105.7" cy="320.7" r="3.0" fill="#b2b2b2" stroke="#4a4a4a" stroke-width="0.9"/>
<circle cx="103.1" cy="350.1" r="3.0" fill="#b2b2b2" stroke="#4a4a4a" stroke-width="0.9"/>
<circle cx="113.7" cy="352.9" r="3.0" fill="#b2b2b2" stroke="#4a4a4a" stroke-width="0.9"/>
<circle cx="97.9" cy="355.9" r="3.0" fill="#b2b2b2" stroke="#4a4a4a" stroke-width="0.9"/>
<circle cx="108.4" cy="356.1" r="3.0" fill="#b2b2b2" stroke="#4a4a4a" stroke-width="0.9"/>
<circle cx="103.1" cy="359.0" r="3.0" fill="#b2b2b2" stroke="#4a4a4a" stroke-width="0.9"/>
<circle cx="108.4" cy="364.4" r="3.0" fill="#b2b2b2" stroke="#4a4a4a" stroke-width="0.9"/>
<circle cx="103.1" cy="370.3" r="3.0" fill="#b2b2b2" stroke="#4a4a4a" stroke-width="0.9"/>
<circle cx="131.2" cy="370.1" r="3.0" fill="#009000" stroke="#003000" stroke-width="0.9"/>
<circle cx="139.2" cy="373.2" r="3.0" fill="#009000" stroke="#003000" stroke-width="0.9"/>
<circle cx="146.9" cy="370.1" r="3.0" fill="#009000" stroke="#003000" stroke-width="0.9"/>
<circle cx="131.2" cy="392.3" r="3.0" fill="#009000" stroke="#003000" stroke-width="0.9"/>
<circle cx="146.9" cy="398.1" r="3.0" fill="#009000" stroke="#003000" stroke-width="0.9"/>
<circle cx="139.2" cy="403.5" r="3.0" fill="#009000" stroke="#003000" stroke-width="0.9"/>
<circle cx="135.1" cy="414.8" r="3.0" fill="#009000" stroke="#003000" stroke-width="0.9"/>
<circle cx="142.9" cy="414.8" r="3.0" fill="#009000" stroke="#003000" stroke-width="0.9"/>
<circle cx="194.3" cy="348.1" r="3.0" fill="#b2b2b2" stroke="#4a4a4a" stroke-width="0.9"/>
<circle cx="186.3" cy="370.3" r="3.0" fill="#b2b2b2" stroke="#4a4a4a" stroke-width="0.9"/>
<circle cx="191.7" cy="370.3" r="3.0" fill="#b2b2b2" stroke="#4a4a4a" stroke-width="0.9"/>
<circle cx="196.9" cy="370.3" r="3.0" fill="#b2b2b2" stroke="#4a4a4a" stroke-width="0.9"/>
<circle cx="202.3" cy="376.0" r="3.0" fill="#b2b2b2" stroke="#4a4a4a" stroke-width="0.9"/>
<circle cx="191.7" cy="381.4" r="3.0" fill="#b2b2b2" stroke="#4a4a4a" stroke-width="0.9"/>
<circle cx="196.9" cy="381.4" r="3.0" fill="#b2b2b2" stroke="#4a4a4a" stroke-width="0.9"/>
<circle cx="194.2" cy="389.8" r="3.0" fill="#b2b2b2" stroke="#4a4a4a" stroke-width="0.9"/>
<circle cx="223.8" cy="370.1" r="3.0" fill="#009000" stroke="#003000" stroke-width="0.9"/>
<circle cx="231.5" cy="370.1" r="3.0" fill="#009000" stroke="#003000" stroke-width="0.9"/>
<circle cx="219.8" cy="389.6" r="3.0" fill="#009000" stroke="#003000" stroke-width="0.9"/>
<circle cx="227.7" cy="389.6" r="3.0" fill="#009000" stroke="#003000" stroke-width="0.9"/>
<circle cx="235.6" cy="389.6" r="3.0" fill="#009000" stroke="#003000" stroke-width="0.9"/>
<circle cx="227.7" cy="398.1" r="3.0" fill="#009000" stroke="#003000" stroke-width="0.9"/>
<circle cx="231.5" cy="406.4" r="3.0" fill="#009000" stroke="#003000" stroke-width="0.9"/>
<circle cx="223.8" cy="409.1" r="3.0" fill="#009000" stroke="#003000" stroke-width="0.9"/>
<line x1="368.55" y1="327.1" x2="368.55" y2="325.9" stroke="#222" stroke-width="1" />
<line x1="362.65" y1="325.9" x2="374.45" y2="325.9" stroke="#333" stroke-width="0.9" />
<line x1="368.55" y1="346.5" x2="368.55" y2="353.4" stroke="#222" stroke-width="1" />
<line x1="362.65" y1="353.4" x2="374.45" y2="353.4" stroke="#333" stroke-width="0.9" />
<rect x="357.6" y="327.1" width="21.90" height="19.40" fill="none" stroke="#222" stroke-width="0.9"/>
<line x1="357.6" y1="339" x2="379.5" y2="339" stroke="#222" stroke-width="0.9" />
<line x1="401.45" y1="343.5" x2="401.45" y2="337.1" stroke="#222" stroke-width="1" />
<line x1="395.55" y1="337.1" x2="407.35" y2="337.1" stroke="#333" stroke-width="0.9" />
<line x1="401.45" y1="383.1" x2="401.45" y2="413.8" stroke="#222" stroke-width="1" />
<line x1="395.55" y1="413.8" x2="407.35" y2="413.8" stroke="#333" stroke-width="0.9" />
<rect x="390.7" y="343.5" width="21.50" height="39.60" fill="none" stroke="#222" stroke-width="0.9"/>
<line x1="390.7" y1="364.7" x2="412.2" y2="364.7" stroke="#222" stroke-width="0.9" />
<line x1="456.95" y1="338.4" x2="456.95" y2="331.5" stroke="#222" stroke-width="1" />
<line x1="451.05" y1="331.5" x2="462.85" y2="331.5" stroke="#333" stroke-width="0.9" />
<line x1="456.95" y1="356.3" x2="456.95" y2="414.3" stroke="#222" stroke-width="1" />
<line x1="451.05" y1="414.3" x2="462.85" y2="414.3" stroke="#333" stroke-width="0.9" />
<rect x="446.3" y="338.4" width="21.30" height="17.90" fill="none" stroke="#222" stroke-width="0.9"/>
<line x1="446.3" y1="350.9" x2="467.6" y2="350.9" stroke="#222" stroke-width="0.9" />
<line x1="489.9" y1="357.2" x2="489.9" y2="342.5" stroke="#222" stroke-width="1" />
<line x1="484" y1="342.5" x2="495.8" y2="342.5" stroke="#333" stroke-width="0.9" />
<line x1="489.9" y1="403.7" x2="489.9" y2="414.4" stroke="#222" stroke-width="1" />
<line x1="484" y1="414.4" x2="495.8" y2="414.4" stroke="#333" stroke-width="0.9" />
<rect x="479.5" y="357.2" width="20.80" height="46.50" fill="none" stroke="#222" stroke-width="0.9"/>
<line x1="479.5" y1="373" x2="500.3" y2="373" stroke="#222" stroke-width="0.9" />
<circle cx="360.4" cy="325.9" r="3.0" fill="#b2b2b2" stroke="#4a4a4a" stroke-width="0.9"/>
<circle cx="376.5" cy="325.9" r="3.0" fill="#b2b2b2" stroke="#4a4a4a" stroke-width="0.9"/>
<circle cx="368.4" cy="331.4" r="3.0" fill="#b2b2b2" stroke="#4a4a4a" stroke-width="0.9"/>
<circle cx="360.4" cy="339.2" r="3.0" fill="#b2b2b2" stroke="#4a4a4a" stroke-width="0.9"/>
<circle cx="376.5" cy="339.2" r="3.0" fill="#b2b2b2" stroke="#4a4a4a" stroke-width="0.9"/>
<circle cx="368.4" cy="342.3" r="3.0" fill="#b2b2b2" stroke="#4a4a4a" stroke-width="0.9"/>
<circle cx="376.5" cy="348.1" r="3.0" fill="#b2b2b2" stroke="#4a4a4a" stroke-width="0.9"/>
<circle cx="360.4" cy="353.4" r="3.0" fill="#b2b2b2" stroke="#4a4a4a" stroke-width="0.9"/>
<circle cx="393.5" cy="339.5" r="3.0" fill="#009000" stroke="#003000" stroke-width="0.9"/>
<circle cx="409.2" cy="337.1" r="3.0" fill="#009000" stroke="#003000" stroke-width="0.9"/>
<circle cx="401.5" cy="353.6" r="3.0" fill="#009000" stroke="#003000" stroke-width="0.9"/>
<circle cx="393.5" cy="364.7" r="3.0" fill="#009000" stroke="#003000" stroke-width="0.9"/>
<circle cx="409.2" cy="364.7" r="3.0" fill="#009000" stroke="#003000" stroke-width="0.9"/>
<circle cx="401.5" cy="376.0" r="3.0" fill="#009000" stroke="#003000" stroke-width="0.9"/>
<circle cx="401.5" cy="387.1" r="3.0" fill="#009000" stroke="#003000" stroke-width="0.9"/>
<circle cx="401.5" cy="413.8" r="3.0" fill="#009000" stroke="#003000" stroke-width="0.9"/>
<circle cx="448.6" cy="331.5" r="3.0" fill="#b2b2b2" stroke="#4a4a4a" stroke-width="0.9"/>
<circle cx="464.7" cy="336.6" r="3.0" fill="#b2b2b2" stroke="#4a4a4a" stroke-width="0.9"/>
<circle cx="456.7" cy="342.4" r="3.0" fill="#b2b2b2" stroke="#4a4a4a" stroke-width="0.9"/>
<circle cx="464.7" cy="348.0" r="3.0" fill="#b2b2b2" stroke="#4a4a4a" stroke-width="0.9"/>
<circle cx="448.6" cy="353.4" r="3.0" fill="#b2b2b2" stroke="#4a4a4a" stroke-width="0.9"/>
<circle cx="456.7" cy="356.3" r="3.0" fill="#b2b2b2" stroke="#4a4a4a" stroke-width="0.9"/>
<circle cx="464.7" cy="356.3" r="3.0" fill="#b2b2b2" stroke="#4a4a4a" stroke-width="0.9"/>
<circle cx="456.4" cy="414.3" r="3.0" fill="#b2b2b2" stroke="#4a4a4a" stroke-width="0.9"/>
<circle cx="489.8" cy="342.5" r="3.0" fill="#009000" stroke="#003000" stroke-width="0.9"/>
<circle cx="497.8" cy="356.2" r="3.0" fill="#009000" stroke="#003000" stroke-width="0.9"/>
<circle cx="489.8" cy="359.3" r="3.0" fill="#009000" stroke="#003000" stroke-width="0.9"/>
<circle cx="482.1" cy="373.0" r="3.0" fill="#009000" stroke="#003000" stroke-width="0.9"/>
<circle cx="489.8" cy="373.0" r="3.0" fill="#009000" stroke="#003000" stroke-width="0.9"/>
<circle cx="497.8" cy="373.0" r="3.0" fill="#009000" stroke="#003000" stroke-width="0.9"/>
<circle cx="485.7" cy="414.4" r="3.0" fill="#009000" stroke="#003000" stroke-width="0.9"/>
<circle cx="493.8" cy="414.4" r="3.0" fill="#009000" stroke="#003000" stroke-width="0.9"/>
<text x="66.1" y="73.8" font-size="8.9" text-anchor="middle" textLength="35.5" lengthAdjust="spacingAndGlyphs"><tspan font-style="italic">P</tspan><tspan dx="1.2">=0.0031</tspan></text>
<text x="124.7" y="73.8" font-size="8.9" text-anchor="middle" textLength="35.5" lengthAdjust="spacingAndGlyphs"><tspan font-style="italic">P</tspan><tspan dx="1.2">=0.0416</tspan></text>
<text x="182.0" y="74.0" font-size="8.5" text-anchor="middle">NS</text>
<text x="240.0" y="74.0" font-size="8.5" text-anchor="middle">NS</text>
<text x="298.0" y="74.0" font-size="8.5" text-anchor="middle">NS</text>
<text x="426.29999999999995" y="73.8" font-size="8.9" text-anchor="middle" textLength="35.5" lengthAdjust="spacingAndGlyphs"><tspan font-style="italic">P</tspan><tspan dx="1.2">=0.0093</tspan></text>
<text x="484.9" y="74.0" font-size="8.5" text-anchor="middle">NS</text>
<text x="542.2" y="74.0" font-size="8.5" text-anchor="middle">NS</text>
<text x="600.2" y="74.0" font-size="8.5" text-anchor="middle">NS</text>
<text x="658.2" y="74.0" font-size="8.5" text-anchor="middle">NS</text>
<text x="122.55" y="313.4" font-size="8.9" text-anchor="middle" textLength="35.5" lengthAdjust="spacingAndGlyphs"><tspan font-style="italic">P</tspan><tspan dx="1.2">=0.0026</tspan></text>
<text x="210.8" y="313.4" font-size="8.9" text-anchor="middle" textLength="35.5" lengthAdjust="spacingAndGlyphs"><tspan font-style="italic">P</tspan><tspan dx="1.2">=0.0411</tspan></text>
<text x="385.0" y="313.4" font-size="8.9" text-anchor="middle" textLength="35.5" lengthAdjust="spacingAndGlyphs"><tspan font-style="italic">P</tspan><tspan dx="1.2">=0.0404</tspan></text>
<text x="473.3" y="313.4" font-size="8.9" text-anchor="middle" textLength="35.5" lengthAdjust="spacingAndGlyphs"><tspan font-style="italic">P</tspan><tspan dx="1.2">=0.0439</tspan></text>
<circle cx="596.5" cy="341.7" r="3.9" fill="#b2b2b2" stroke="#4a4a4a" stroke-width="0.9"/>
<circle cx="596.5" cy="368.6" r="3.9" fill="#009000" stroke="#003000" stroke-width="0.9"/>
<text x="611.8" y="346.3" font-size="10.8" text-anchor="start" font-weight="normal" >Control</text>
<text x="612.6" y="372.8" font-size="10.8" text-anchor="start" font-weight="normal" >RBD-62</text>
</svg></body></html>
